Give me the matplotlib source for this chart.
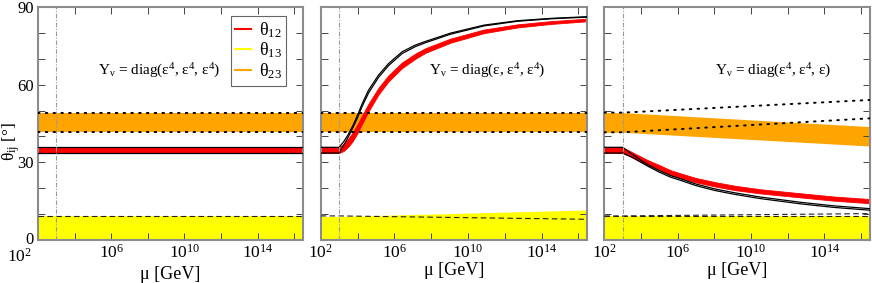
import numpy as np
import matplotlib
matplotlib.use('Agg')
import matplotlib.pyplot as plt
from matplotlib.ticker import FixedLocator, FixedFormatter
from matplotlib.lines import Line2D
from matplotlib.transforms import ScaledTranslation

plt.rcParams['font.family'] = ['Liberation Serif', 'DejaVu Serif']
plt.rcParams['mathtext.fontset'] = 'custom'
plt.rcParams['mathtext.rm'] = 'Liberation Serif'
plt.rcParams['mathtext.it'] = 'Liberation Serif:italic'

# ---------------- data (x given as log10(mu/GeV)) ----------------
mu_min_exp = 2.0
mu_max_exp = 16.48
mu_threshold_exp = 3.0

x_ticks_exp = [2, 6, 10, 14]
x_minor_exp = [4, 8, 12, 16]
x_tick_labels = ['10$^{2}$', '10$^{6}$', '10$^{10}$', '10$^{14}$']
y_ticks = [0, 30, 60, 90]
y_minor = [10, 20, 40, 50, 70, 80]

panel_labels = ['Y$_{\\mathrm{ν}}$ = diag(ε$^{4}$, ε$^{4}$, ε$^{4}$)',
                'Y$_{\\mathrm{ν}}$ = diag(ε, ε$^{4}$, ε$^{4}$)',
                'Y$_{\\mathrm{ν}}$ = diag(ε$^{4}$, ε$^{4}$, ε)']

# panel 1 (all flat)
p1_x = [2.0, 3.0, 16.48]
p1_t12_c = [34.7, 34.7, 34.7]
p1_t12_w = [1.1, 1.1, 1.1]
p1_blk_hi = [35.8, 35.8, 35.8]
p1_blk_lo = [33.6, 33.6, 33.6]
p1_t23_lo = [41.6, 41.6, 41.6]
p1_t23_hi = [49.2, 49.2, 49.2]
p1_dot_hi = [49.2, 49.2, 49.2]
p1_dot_lo = [41.6, 41.6, 41.6]
p1_t13_hi = [9.1, 9.1, 9.1]
p1_dash = [9.3, 9.3, 9.3]

# panel 2
p2_x = [2.0, 3.0, 3.25, 3.5, 3.75, 4.0, 4.25, 4.6, 5.14, 5.69, 6.42, 7.14, 7.69,
        9.05, 10.87, 12.69, 14.51, 16.48]
p2_blk_hi = [35.8, 35.8, 38.0, 40.8, 44.2, 48.2, 52.6, 57.9, 63.7, 68.2, 72.7, 75.3,
             76.7, 79.9, 83.0, 84.7, 85.6, 86.25]
p2_blk_lo = [33.6, 33.6, 36.6, 39.8, 43.4, 47.2, 51.6, 56.8, 62.8, 67.4, 72.0, 74.7,
             76.2, 79.5, 82.7, 84.5, 85.45, 86.1]
p2_t12_c = [34.7, 34.7, 35.8, 37.6, 40.0, 43.0, 46.5, 51.2, 57.5, 62.5, 67.5, 71.0,
            73.2, 77.0, 80.6, 82.7, 84.0, 85.0]
p2_t12_w = [1.1, 1.1, 1.4, 1.6, 1.7, 1.7, 1.6, 1.5, 1.3, 1.2, 1.1, 1.0,
            0.9, 0.8, 0.7, 0.6, 0.55, 0.5]
p2_x_lin = [2.0, 3.0, 16.48]
p2_t23_lo = [41.6, 41.6, 41.6]
p2_t23_hi = [49.2, 49.2, 49.2]
p2_dot_hi = [49.2, 49.2, 49.2]
p2_dot_lo = [41.6, 41.6, 41.6]
p2_t13_hi = [9.1, 9.1, 11.6]
p2_dash = [9.3, 9.3, 8.0]

# panel 3
p3_x = [2.0, 3.0, 3.5, 4.0, 4.4, 5.0, 5.6, 6.22, 7.0, 8.04, 9.13, 10.5, 12.77, 14.5, 16.48]
p3_t12_c = [34.7, 34.7, 33.0, 31.2, 29.8, 28.0, 26.1, 24.7, 23.1, 21.5, 20.1, 18.8,
            17.2, 16.0, 15.0]
p3_t12_w = [1.1, 1.1, 1.0, 1.0, 0.95, 0.95, 0.9, 0.9, 0.85, 0.85, 0.85, 0.8, 0.8, 0.8, 0.8]
p3_blk_hi = [35.8, 35.8, 33.2, 30.8, 29.0, 26.8, 24.9, 23.5, 21.6, 19.7, 18.2, 16.6,
             14.5, 13.2, 12.1]
p3_blk_lo = [33.6, 33.6, 32.0, 30.0, 28.4, 26.2, 24.3, 22.9, 21.0, 19.1, 17.6, 16.0,
             13.9, 12.6, 11.5]
p3_x_lin = [2.0, 3.0, 16.48]
p3_t23_lo = [41.6, 41.6, 36.3]
p3_t23_hi = [49.2, 49.2, 43.8]
p3_dot_hi = [49.2, 49.2, 54.1]
p3_dot_lo = [41.6, 41.6, 47.0]
p3_t13_hi = [9.1, 9.1, 9.1]
p3_dash = [9.3, 9.3, 9.3]
p3_dash2 = [9.3, 9.3, 10.2]

# ---------------- styling ----------------
RED = '#ff0000'
YEL = '#ffff00'
ORA = '#ffa500'
SPINE = '#8c8c8c'

W, H = 872, 283
fig = plt.figure(figsize=(W / 100, H / 100), dpi=100)

ax_px = [(38, 303), (320.7, 587.3), (604.3, 870)]
top_px, bot_px = 7, 240


def e(v):
    return 10.0 ** np.asarray(v, dtype=float)


panels = [
    dict(x=p1_x, c=p1_t12_c, w=p1_t12_w, bh=p1_blk_hi, bl=p1_blk_lo, xl=p1_x,
         o_lo=p1_t23_lo, o_hi=p1_t23_hi, d_hi=p1_dot_hi, d_lo=p1_dot_lo,
         y_hi=p1_t13_hi, dash=[p1_dash]),
    dict(x=p2_x, c=p2_t12_c, w=p2_t12_w, bh=p2_blk_hi, bl=p2_blk_lo, xl=p2_x_lin,
         o_lo=p2_t23_lo, o_hi=p2_t23_hi, d_hi=p2_dot_hi, d_lo=p2_dot_lo,
         y_hi=p2_t13_hi, dash=[p2_dash]),
    dict(x=p3_x, c=p3_t12_c, w=p3_t12_w, bh=p3_blk_hi, bl=p3_blk_lo, xl=p3_x_lin,
         o_lo=p3_t23_lo, o_hi=p3_t23_hi, d_hi=p3_dot_hi, d_lo=p3_dot_lo,
         y_hi=p3_t13_hi, dash=[p3_dash, p3_dash2]),
]
label_pos = [(0.457, 0.725), (0.626, 0.725), (0.637, 0.725)]

axes = []
for i, (pd, (l, r)) in enumerate(zip(panels, ax_px)):
    ax = fig.add_axes([l / W, 1 - bot_px / H, (r - l) / W, (bot_px - top_px) / H])
    axes.append(ax)
    ax.set_xscale('log')
    ax.set_xlim(10 ** mu_min_exp, 10 ** mu_max_exp)
    ax.set_ylim(0, 90)

    xl = e(pd['xl'])
    ax.fill_between(xl, 0, pd['y_hi'], color=YEL, lw=0, zorder=1)
    ax.fill_between(xl, pd['o_lo'], pd['o_hi'], color=ORA, lw=0, zorder=1)
    xc = e(pd['x'])
    c = np.asarray(pd['c']); w = np.asarray(pd['w'])
    ax.fill_between(xc, c - w, c + w, color=RED, lw=0.6, edgecolor=RED, zorder=2)
    ax.plot(xc, pd['bh'], color='black', lw=0.9, zorder=3)
    ax.plot(xc, pd['bl'], color='black', lw=0.9, zorder=3)
    ax.plot(xl, pd['d_hi'], color='black', lw=1.4, ls=(0, (0.8, 3.2)), zorder=4,
            dash_capstyle='round')
    ax.plot(xl, pd['d_lo'], color='black', lw=1.4, ls=(0, (0.8, 3.2)), zorder=4,
            dash_capstyle='round')
    for dl in pd['dash']:
        ax.plot(xl, dl, color='#222222', lw=0.8, ls=(0, (5, 3)), zorder=4)
    ax.axvline(10 ** mu_threshold_exp, color='#9a9a9a', lw=0.8, ls=(0, (4, 1.5, 1, 1.5)),
               zorder=5)

    ax.xaxis.set_major_locator(FixedLocator(e(x_ticks_exp)))
    ax.xaxis.set_minor_locator(FixedLocator(e(x_minor_exp)))
    ax.xaxis.set_major_formatter(FixedFormatter(x_tick_labels))
    ax.xaxis.set_minor_formatter(plt.NullFormatter())
    ax.yaxis.set_major_locator(FixedLocator(y_ticks))
    ax.yaxis.set_minor_locator(FixedLocator(y_minor))
    ax.tick_params(which='both', direction='in', top=True, right=True,
                   color='#444444', width=0.7, length=5)
    ax.tick_params(axis='x', which='major', labelsize=12.5, pad=3)
    ax.tick_params(axis='y', which='major', labelsize=12, pad=3)
    if i > 0:
        ax.set_yticklabels([])
    for s in ax.spines.values():
        s.set_color(SPINE)
        s.set_linewidth(1.5)
    ax.set_xlabel('μ [GeV]', fontsize=13, labelpad=0)
    ax.text(label_pos[i][0], label_pos[i][1], panel_labels[i], transform=ax.transAxes,
            ha='center', va='center', fontsize=11)

# first tick label of the left panel sits left of, and just below, the axis corner
lab0 = axes[0].xaxis.get_major_ticks()[0].label1
lab0.set_transform(lab0.get_transform() + ScaledTranslation(-0.19, -0.035, fig.dpi_scale_trans))
ylab0 = axes[0].yaxis.get_major_ticks()[0].label1
ylab0.set_transform(ylab0.get_transform() + ScaledTranslation(0, 0.02, fig.dpi_scale_trans))

handles = [Line2D([], [], color=RED, lw=1.5),
           Line2D([], [], color=YEL, lw=1.5),
           Line2D([], [], color=ORA, lw=1.5)]
leg = axes[0].legend(handles, ['θ$_{12}$', 'θ$_{13}$', 'θ$_{23}$'],
                     loc='upper right', bbox_to_anchor=(0.936, 0.963),
                     fontsize=13, frameon=True, fancybox=False, framealpha=1,
                     handlelength=0.9, handletextpad=0.4, borderpad=0.25,
                     labelspacing=0.05, borderaxespad=0)
leg.get_frame().set_edgecolor('#666666')
leg.get_frame().set_linewidth(0.8)
leg.set_zorder(10)

fig.text(0.013, 0.50, 'θ$_{\\mathrm{ij}}$ [°]', rotation=90, ha='center', va='center',
         fontsize=12.5)

fig.savefig('out.png', dpi=100)
